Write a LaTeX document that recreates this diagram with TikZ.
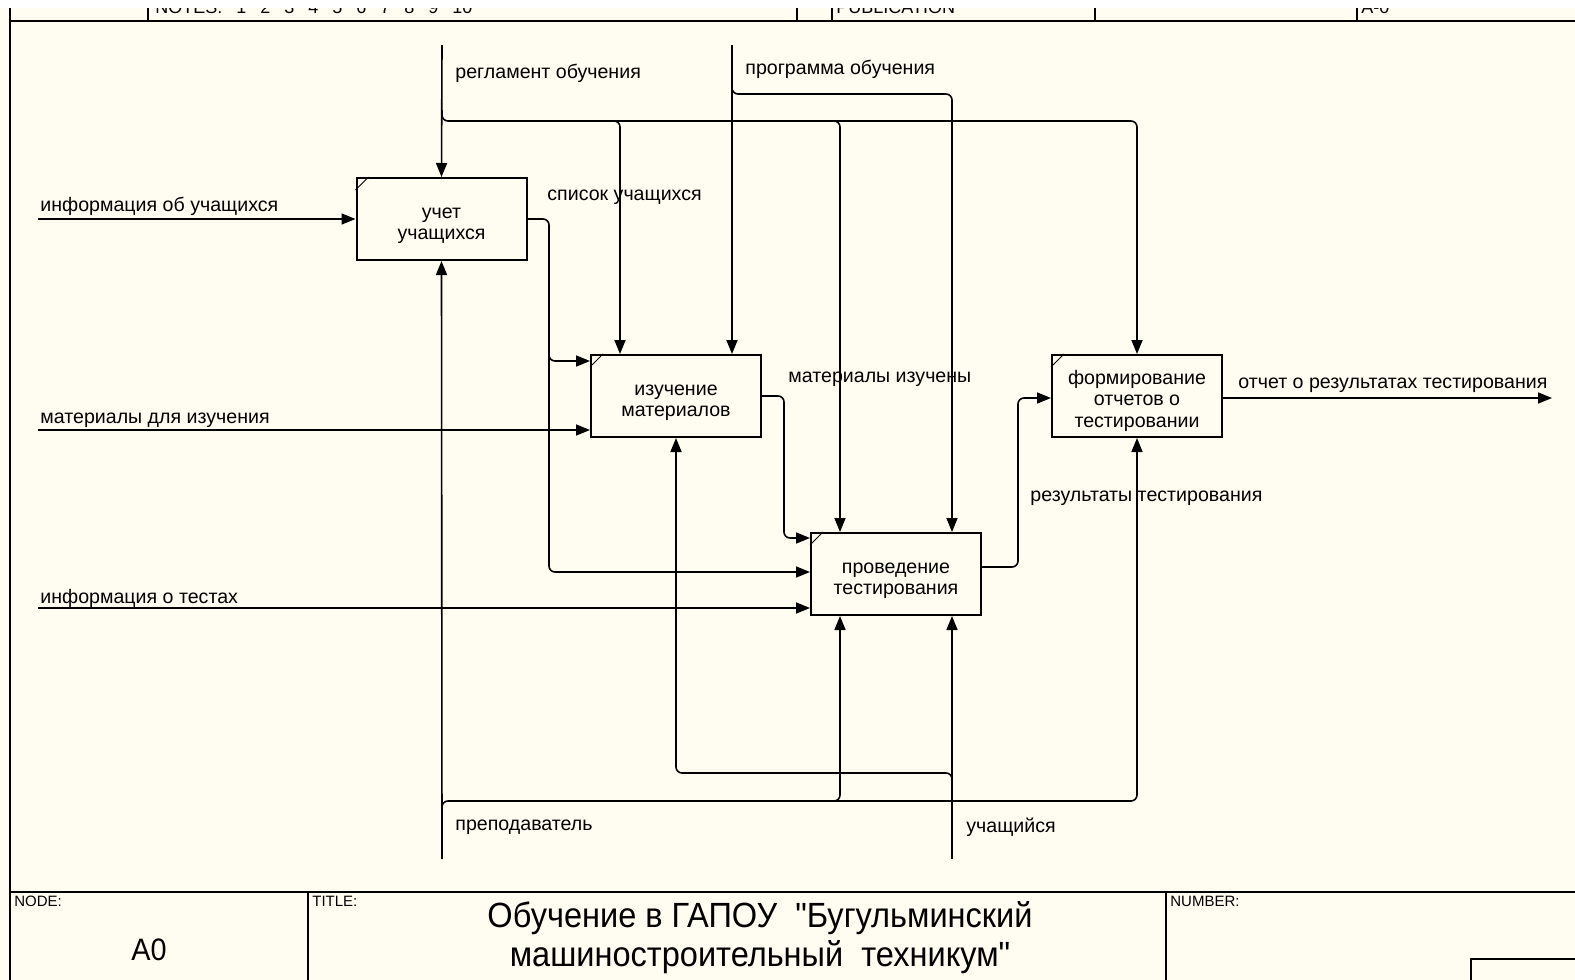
\documentclass[tikz,border=0pt]{standalone}
\usepackage{fontspec}
\setmainfont{Liberation Sans}
\newfontfamily\narrowfont[FakeStretch=0.93]{Liberation Sans}
\usepackage{tikz}
\usetikzlibrary{arrows.meta}
\definecolor{paper}{RGB}{255,252,242}
\newcommand\fntext[1]{\raisebox{-2.8pt}[\height][\depth]{\begin{tabular}{@{}c@{}}#1\end{tabular}}}
\tikzset{
  func/.style={draw, line width=1pt, fill=paper, minimum width=85pt, minimum height=41pt, inner sep=1pt, font=\fontsize{9.8}{10.6}\selectfont},
  arc/.style={line width=0.8pt, rounded corners=3pt},
  flow/.style={arc, -{Triangle[length=7pt,width=5.5pt]}},
  lbl/.style={anchor=west, inner sep=0pt, font=\fontsize{9.8}{11.5}\selectfont},
  tag/.style={anchor=north west, inner sep=0pt, font=\fontsize{7.5}{9}\selectfont},
}

\begin{document}
\begin{tikzpicture}[x=0.5pt,y=-0.5pt]
\useasboundingbox (0,0) rectangle (1575,980);
\fill[paper] (0,0) rectangle (1575,980);
\begin{scope}
  \clip (0,8) rectangle (1575,980);
  \node[tag, font=\fontsize{9}{10}\selectfont, anchor=base west] (notes) at (155,13) {NOTES:\hspace{7pt}1\hspace{7pt}2\hspace{7pt}3\hspace{7pt}4\hspace{7pt}5\hspace{7pt}6\hspace{7pt}7\hspace{7pt}8\hspace{7pt}9\hspace{7pt}10};
  \node[tag, font=\fontsize{9}{10}\selectfont, anchor=base west] (publ) at (836,13) {PUBLICATION};
  \node[tag, font=\fontsize{9}{10}\selectfont, anchor=base west] (ctx) at (1361,13) {A-0};
\end{scope}
\fill[white] (0,0) rectangle (1575,8);
% frame
\draw[line width=1.2pt] (10,21) -- (1575,21);
\foreach \x in {148,797,832,1095,1357} \draw[line width=0.6pt] (\x,8) -- (\x,21);
\draw[line width=0.8pt] (10,8) -- (10,980);
\draw[line width=0.8pt] (10,892) -- (1575,892);
\draw[line width=0.8pt] (308,892) -- (308,980) (1166,892) -- (1166,980);
\draw[line width=1.2pt] (1575,959) -- (1471,959) -- (1471,980);
\node[tag] (nodeTag) at (14,896) {NODE:};
\node[tag] (titleTag) at (312,896) {TITLE:};
\node[tag] (numTag) at (1170,896) {NUMBER:};
\node[font=\narrowfont\fontsize{15.5}{18}\selectfont] (nodeNum) at (149,950) {A0};
\node[align=center, font=\narrowfont\fontsize{17.5}{19.5}\selectfont] (title) at (760,938) {Обучение в ГАПОУ\ \ "Бугульминский\\машиностроительный\ \ техникум"};

% functions
\node[func] (uchet) at (441.5,219) {\fntext{учет\\учащихся}};
\node[func] (izuch) at (676,396) {\fntext{изучение\\материалов}};
\node[func] (test) at (896,574) {\fntext{проведение\\тестирования}};
\node[func] (otchet) at (1137,396) {\fntext{формирование\\отчетов о\\тестировании}};
\foreach \b in {uchet,izuch,test,otchet}
  \draw[line width=0.5pt] (\b.north west) ++(0,13) -- ++(13,-13);

% boundary ends
\coordinate (inA) at (38,219);
\coordinate (inB) at (38,430);
\coordinate (inC) at (38,608);
\coordinate (ctlA) at (442,45);
\coordinate (ctlB) at (732,45);
\coordinate (mecA) at (442,859);
\coordinate (mecB) at (952,859);
\coordinate (outA) at (1552,398);

% inputs
\draw[flow] (inA) -- (uchet.west);
\draw[flow] (inB) -- (inB -| izuch.west);
\draw[flow] (inC) -- (inC -| test.west);

% internal links
\coordinate (sA) at (549,572);
\draw[flow] (uchet.east) -| (sA) -- (sA -| test.west);
\draw[flow] (549,345) |- (izuch.west |- 0,361);
\coordinate (sB) at (784,538);
\draw[flow] (izuch.east) -| (sB) -- (sB -| test.west);
\coordinate (sC) at (1018,398);
\draw[flow] (test.east |- 0,567) -| (sC) -- (sC -| otchet.west);
\draw[flow] (otchet.east |- outA) -- (outA);

% controls
\coordinate (hA) at (1137,121);
\draw[flow] (ctlA) -- (uchet.north);
\draw[flow] (ctlA |- 0,110) |- (hA) -- (otchet.north);
\draw[flow] (606,121) -| (izuch.north -| 620,0);
\draw[flow] (826,121) -| (test.north -| 840,0);
\coordinate (hB) at (952,94);
\draw[flow] (ctlB) -- (izuch.north -| ctlB);
\draw[flow] (ctlB |- 0,84) |- (hB) -- (test.north -| hB);

% mechanisms
\coordinate (hC) at (1137,801);
\coordinate (hD) at (676,773);
\draw[flow] (mecA) -- (uchet.south);
\draw[flow] (mecA |- 0,811) |- (hC) -- (otchet.south);
\draw[flow] (826,801) -| (test.south -| 840,0);
\draw[flow] (mecB) -- (test.south -| mecB);
\draw[flow] (mecB |- 0,784) |- (hD) -- (izuch.south);

% arrow labels
\node[lbl] (lInA) at (40,206) {информация об учащихся};
\node[lbl] (lInB) at (40,420) {материалы для изучения};
\node[lbl] (lInC) at (40,598) {информация о тестах};
\node[lbl] (lRegl) at (455,73) {регламент обучения};
\node[lbl] (lProg) at (745,69) {программа обучения};
\node[lbl] (lSpis) at (547,197) {список учащихся};
\node[lbl] (lMat) at (788,379) {материалы изучены};
\node[lbl] (lRez) at (1030,498) {результаты тестирования};
\node[lbl] (lOtch) at (1238,385) {отчет о результатах тестирования};
\node[lbl] (lPrep) at (455,827) {преподаватель};
\node[lbl] (lUch) at (966,827) {учащийся};
\end{tikzpicture}
\end{document}
